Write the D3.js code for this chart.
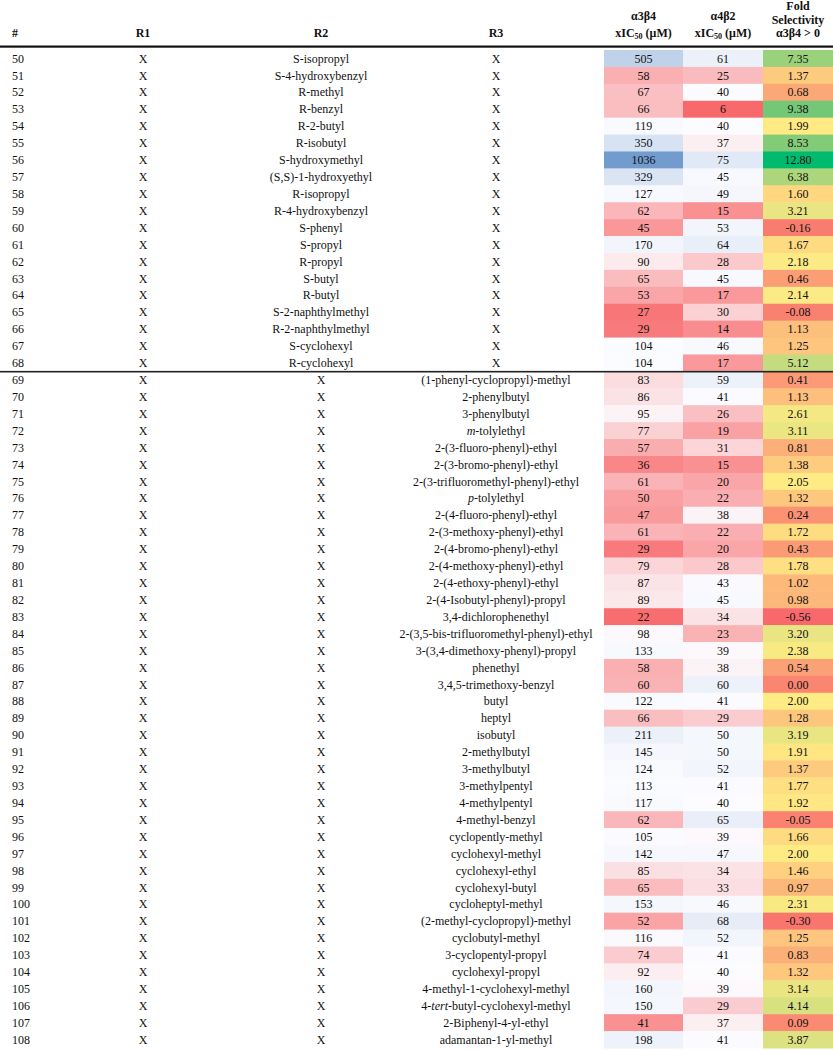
<!DOCTYPE html>
<html><head><meta charset="utf-8">
<script src="https://cdn.jsdelivr.net/npm/d3@7"></script>
<style>body{margin:0;background:#fff}svg{display:block}</style>
</head><body><svg id="c" width="833" height="1050"></svg>
<script>
const ids = [50,51,52,53,54,55,56,57,58,59,60,61,62,63,64,65,66,67,68,
  69,70,71,72,73,74,75,76,77,78,79,80,81,82,83,84,85,86,87,88,89,90,91,92,93,94,95,96,97,98,99,100,101,102,103,104,105,106,107,108];
const r2Names = ["S-isopropyl","S-4-hydroxybenzyl","R-methyl","R-benzyl","R-2-butyl","R-isobutyl","S-hydroxymethyl","(S,S)-1-hydroxyethyl","R-isopropyl","R-4-hydroxybenzyl","S-phenyl","S-propyl","R-propyl","S-butyl","R-butyl","S-2-naphthylmethyl","R-2-naphthylmethyl","S-cyclohexyl","R-cyclohexyl"];
const r3Names = ["(1-phenyl-cyclopropyl)-methyl","2-phenylbutyl","3-phenylbutyl","m-tolylethyl","2-(3-fluoro-phenyl)-ethyl","2-(3-bromo-phenyl)-ethyl","2-(3-trifluoromethyl-phenyl)-ethyl","p-tolylethyl","2-(4-fluoro-phenyl)-ethyl","2-(3-methoxy-phenyl)-ethyl","2-(4-bromo-phenyl)-ethyl","2-(4-methoxy-phenyl)-ethyl","2-(4-ethoxy-phenyl)-ethyl","2-(4-Isobutyl-phenyl)-propyl","3,4-dichlorophenethyl","2-(3,5-bis-trifluoromethyl-phenyl)-ethyl","3-(3,4-dimethoxy-phenyl)-propyl","phenethyl","3,4,5-trimethoxy-benzyl","butyl","heptyl","isobutyl","2-methylbutyl","3-methylbutyl","3-methylpentyl","4-methylpentyl","4-methyl-benzyl","cyclopently-methyl","cyclohexyl-methyl","cyclohexyl-ethyl","cyclohexyl-butyl","cycloheptyl-methyl","(2-methyl-cyclopropyl)-methyl","cyclobutyl-methyl","3-cyclopentyl-propyl","cyclohexyl-propyl","4-methyl-1-cyclohexyl-methyl","4-tert-butyl-cyclohexyl-methyl","2-Biphenyl-4-yl-ethyl","adamantan-1-yl-methyl"];
const a3b4 = [505,58,67,66,119,350,1036,329,127,62,45,170,90,65,53,27,29,104,104,
  83,86,95,77,57,36,61,50,47,61,29,79,87,89,22,98,133,58,60,122,66,211,145,124,113,117,62,105,142,85,65,153,52,116,74,92,160,150,41,198];
const a4b2 = [61,25,40,6,40,37,75,45,49,15,53,64,28,45,17,30,14,46,17,
  59,41,26,19,31,15,20,22,38,22,20,28,43,45,34,23,39,38,60,41,29,50,50,52,41,40,65,39,47,34,33,46,68,52,41,40,39,29,37,41];
const fold = [7.35,1.37,0.68,9.38,1.99,8.53,12.80,6.38,1.60,3.21,-0.16,1.67,2.18,0.46,2.14,-0.08,1.13,1.25,5.12,
  0.41,1.13,2.61,3.11,0.81,1.38,2.05,1.32,0.24,1.72,0.43,1.78,1.02,0.98,-0.56,3.20,2.38,0.54,0.00,2.00,1.28,3.19,1.91,1.37,1.77,1.92,-0.05,1.66,2.00,1.46,0.97,2.31,-0.30,1.25,0.83,1.32,3.14,4.14,0.09,3.87];
const nSplit = r2Names.length;

const rows = ids.map((id,i)=>({
  id, r1:"X",
  r2: i < nSplit ? r2Names[i] : "X",
  r3: i < nSplit ? "X" : r3Names[i-nSplit],
  a:a3b4[i], b:a4b2[i], f:fold[i]
}));

const svg = d3.select("#c");
const W = 833;
const FONT = "'Liberation Serif','Times New Roman',Times,serif";
const y = d3.scaleBand().domain(ids).range([50,1048]).padding(0);
const h = y.bandwidth();

const cA = d3.scaleLinear().domain([20,100,1200]).range(["#F8696B","#FCFCFF","#5A8AC6"]).clamp(true);
const cB = d3.scaleLinear().domain([6,40,250]).range(["#F8696B","#FCFCFF","#5A8AC6"]).clamp(true);
const cF = d3.scaleLinear().domain([-0.56,2.0,9.38,12.8]).range(["#F8696B","#FFEB84","#74C777","#00BA6E"]).clamp(true);

const cols = [
  {key:"a", x0:604, x1:683, color:cA, fmt:d=>String(d)},
  {key:"b", x0:683, x1:763, color:cB, fmt:d=>String(d)},
  {key:"f", x0:763, x1:833, color:cF, fmt:d=>d.toFixed(2)}
];

cols.forEach(c=>{
  svg.append("g").selectAll("rect").data(rows).join("rect")
    .attr("x",c.x0).attr("y",d=>y(d.id)).attr("width",c.x1-c.x0).attr("height",h+0.5)
    .attr("fill",d=>c.color(d[c.key]));
  svg.append("g").selectAll("text").data(rows).join("text")
    .attr("x",(c.x0+c.x1)/2).attr("y",d=>y(d.id)+h/2+4.2)
    .attr("text-anchor","middle").attr("font-family",FONT).attr("font-size",12).attr("fill","#111")
    .text(d=>c.fmt(d[c.key]));
});

function addCol(key,x,anchor){
  svg.append("g").selectAll("text").data(rows).join("text")
    .attr("x",x).attr("y",d=>y(d.id)+h/2+4.2)
    .attr("text-anchor",anchor).attr("font-family",FONT).attr("font-size",12).attr("fill","#111")
    .each(function(d){
      const s = String(d[key]);
      const parts = s.split(/(^[mp](?=-)|tert)/).filter(p=>p!=="");
      const t = d3.select(this);
      parts.forEach(p=>{
        t.append("tspan").attr("font-style",(p==="m"||p==="p"||p==="tert")?"italic":null).text(p);
      });
    });
}
addCol("id",12,"start");
addCol("r1",143,"middle");
addCol("r2",321,"middle");
addCol("r3",496,"middle");

const hdr = svg.append("g").attr("font-family",FONT).attr("font-size",12).attr("font-weight","bold").attr("fill","#111");
hdr.append("text").attr("x",12).attr("y",37).text("#");
hdr.append("text").attr("x",143).attr("y",37).attr("text-anchor","middle").text("R1");
hdr.append("text").attr("x",321).attr("y",37).attr("text-anchor","middle").text("R2");
hdr.append("text").attr("x",496).attr("y",37).attr("text-anchor","middle").text("R3");
[[643.5,"α3β4"],[723,"α4β2"]].forEach(([x,lab])=>{
  hdr.append("text").attr("x",x).attr("y",20).attr("text-anchor","middle").text(lab);
  const t = hdr.append("text").attr("x",x).attr("y",37).attr("text-anchor","middle");
  t.append("tspan").text("xIC");
  t.append("tspan").attr("font-size",8).attr("dy",2).text("50");
  t.append("tspan").attr("dy",-2).text(" (μM)");
});
hdr.append("text").attr("x",798).attr("y",10).attr("text-anchor","middle").text("Fold");
hdr.append("text").attr("x",798).attr("y",23.5).attr("text-anchor","middle").text("Selectivity");
hdr.append("text").attr("x",798).attr("y",37).attr("text-anchor","middle").text("α3β4 > 0");

svg.append("rect").attr("x",0).attr("y",45.5).attr("width",W).attr("height",2.2).attr("fill","#111");
svg.append("rect").attr("x",0).attr("y",y(69)-0.5).attr("width",W).attr("height",1.6).attr("fill","#222");
</script></body></html>
